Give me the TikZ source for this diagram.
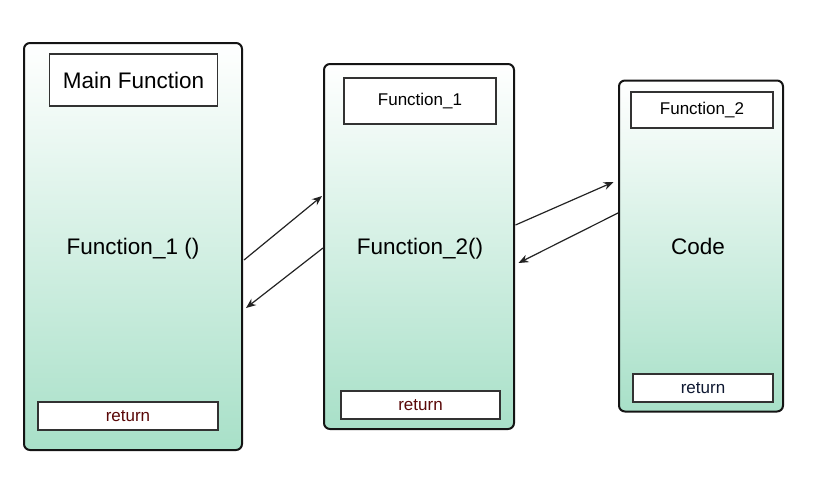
\documentclass[tikz,border=0pt]{standalone}
\usepackage{fontspec}
\setmainfont{Liberation Sans}
\usetikzlibrary{calc,arrows.meta}
\definecolor{gbot}{RGB}{168,224,200}
\definecolor{frame}{RGB}{20,20,20}
\definecolor{inner}{RGB}{50,50,50}
\definecolor{retred}{RGB}{90,8,8}
\definecolor{retblue}{RGB}{15,25,50}
\definecolor{arr}{RGB}{35,35,35}
\tikzset{
  outerbox/.style={draw=frame, line width=2pt, rounded corners=6pt, top color=white, bottom color=gbot, inner sep=0pt},
  labelbox/.style={draw=inner, line width=1.2pt, fill=white, inner sep=0pt},
  bigtxt/.style={font=\fontsize{22.5}{26}\selectfont},
  smalltxt/.style={font=\fontsize{17}{20}\selectfont},
  conn/.style={draw=arr, line width=1.2pt, -{Stealth[length=10pt,width=8pt]}}
}
\begin{document}
\begin{tikzpicture}[x=1pt,y=-1pt]
\useasboundingbox (0,0) rectangle (827,491);
% outer boxes
\node[outerbox, minimum width=218pt, minimum height=407pt] (b1) at (133,246.5) {};
\node[outerbox, minimum width=190pt, minimum height=365pt] (b2) at (419,246.5) {};
\node[outerbox, minimum width=164pt, minimum height=331pt] (b3) at (701,246) {};
% header boxes
\node[labelbox, bigtxt, minimum width=168pt, minimum height=52pt] (h1) at (133.5,80) {Main Function};
\node[labelbox, smalltxt, minimum width=152pt, minimum height=46pt] (h2) at (420,101) {Function\_1};
\node[labelbox, smalltxt, minimum width=142pt, minimum height=36pt] (h3) at (702,110) {Function\_2};
% return boxes
\node[labelbox, smalltxt, text=retred, minimum width=180pt, minimum height=28pt] (r1) at (128,416) {return};
\node[labelbox, smalltxt, text=retred, minimum width=159pt, minimum height=28pt] (r2) at (420.5,405) {return};
\node[labelbox, smalltxt, text=retblue, minimum width=140pt, minimum height=28pt] (r3) at (703,388) {return};
% center texts
\node[bigtxt] (c1) at (133,249) {Function\_1 ()};
\node[bigtxt] (c2) at (420,249) {Function\_2()};
\node[bigtxt] (c3) at (698,246.5) {Code};
% connectors
\draw[conn] ($(b1.east)+(1,13.5)$) -- ($(b2.west)+(-1,-50.5)$);
\draw[conn] ($(b2.west)+(0,1.5)$) -- ($(b1.east)+(3,61.5)$);
\draw[conn] ($(b2.east)+(0.5,-21.5)$) -- ($(b3.west)+(-4.5,-64)$);
\draw[conn] ($(b3.west)+(0,-33)$) -- ($(b2.east)+(3.5,16.5)$);
\end{tikzpicture}
\end{document}
